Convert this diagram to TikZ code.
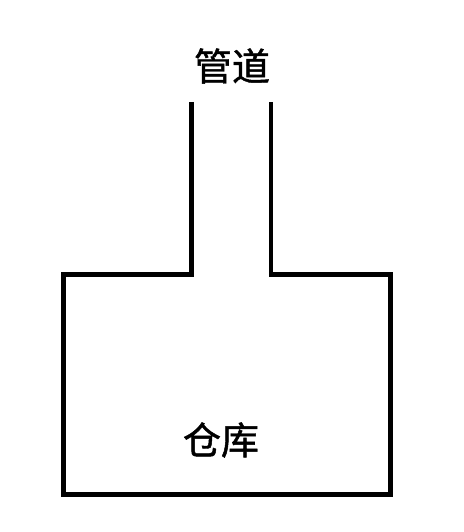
\documentclass[tikz,border=0pt]{standalone}
\usepackage{fontspec}
\newfontfamily\cjk[FakeBold=1.2]{Noto Sans CJK SC}
\begin{document}
\begin{tikzpicture}[x=1pt,y=-1pt,
  wall/.style={line width=4.5pt,line join=miter,line cap=butt},
  lbl/.style={font=\cjk\fontsize{38}{42}\selectfont,inner sep=0pt}]
\useasboundingbox (0,0) rectangle (463,532);
\fill[white] (0,0) rectangle (463,532);
\coordinate (pl) at (191.3,102);
\coordinate (pr) at (271,102);
\coordinate (jl) at (191.3,274.5);
\coordinate (jr) at (271,274.5);
\coordinate (tl) at (63.5,274.5);
\coordinate (tr) at (390.5,274.5);
\coordinate (bl) at (63.5,494.3);
\coordinate (br) at (390.5,494.3);
\draw[wall] (pl) -- (jl) -- (tl) -- (bl) -- (br) -- (tr) -- (jr) -- (pr);
\node[lbl] (pipe) at (232,66) {管道};
\node[lbl] (store) at (221,440) {仓库};
\end{tikzpicture}
\end{document}
